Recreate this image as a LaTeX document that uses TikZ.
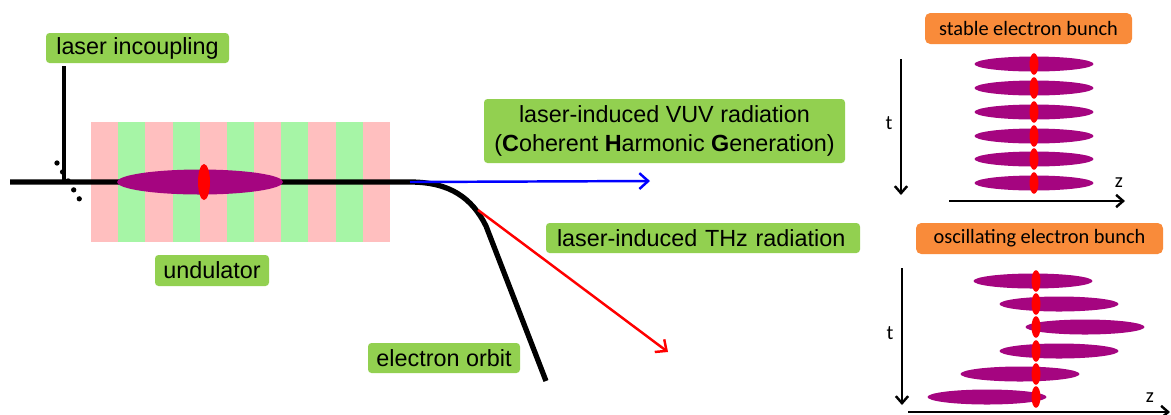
\documentclass[tikz,border=0pt]{standalone}
\usepackage{fontspec}
\setmainfont{Liberation Sans}
\newfontfamily\calibri{Carlito}
\usetikzlibrary{arrows.meta}

\definecolor{labelgreen}{HTML}{92D050}
\definecolor{boxorange}{HTML}{F98B3A}
\definecolor{undpink}{HTML}{FFBFBF}
\definecolor{undgreen}{HTML}{A6F5A6}
\definecolor{bunch}{HTML}{A50580}

\tikzset{
	label box/.style={fill=labelgreen, rounded corners=2pt, inner sep=0pt,
		font=\fontsize{13.3}{16.2}\selectfont},
	title box/.style={fill=boxorange, rounded corners=3pt, inner sep=0pt,
		font=\calibri\fontsize{11.6}{14}\selectfont},
	axis/.style={line width=1.4pt, -{Straight Barb[length=4pt,width=7pt]}},
	ray/.style={line width=1.4pt, -{Straight Barb[length=5pt,width=9pt]}},
}

% one slice of the bunch: centre x, y, and x of the laser spot
\newcommand\slice[3]{
	\fill[bunch] (#1,#2) ellipse [x radius=59.5, y radius=7.5];
	\fill[red] (#3,#2) ellipse [x radius=4.5, y radius=10.8];
}

\begin{document}
\begin{tikzpicture}[x=0.02cm, y=-0.02cm]
	\useasboundingbox (0,0) rectangle (1171,414);
	
	%%%%% UNDULATOR %%%%%
	\foreach \i in {0,...,10} {
		\pgfmathparse{int(mod(\i,2))}
		\ifnum\pgfmathresult=0 \def\stripe{undpink}\else \def\stripe{undgreen}\fi
		\fill[\stripe] ({91+\i*27.18},122) rectangle ({91+(\i+1)*27.18},242);
	}
	
	%%%%% ORBIT AND LASER %%%%%
	\coordinate (orbitbend) at (410,182);
	\coordinate (thzstart) at (478,210);
	\draw[line width=3pt] (10,182) -- (orbitbend) .. controls (450,182) and (472,198) .. (486,226) -- (546,381);
	\draw[line width=2.2pt] (64,66) -- (64,182);
	\draw[line width=3pt, line cap=round, dash pattern=on 0pt off 6pt] (57,163) -- (80,200);
	
	\fill[bunch] (200,182) ellipse [x radius=83, y radius=12.5];
	\fill[red] (204,182) ellipse [x radius=6, y radius=18];
	
	%%%%% RADIATION %%%%%
	\coordinate (vuvend) at (650,181);
	\coordinate (thzend) at (668,352);
	\draw[ray, blue] (orbitbend) -- (vuvend);
	\draw[ray, red] (thzstart) -- (thzend);
	
	%%%%% LABELS %%%%%
	\node[label box, minimum width=183*0.02cm, minimum height=30*0.02cm] (incoupling) at (137.5,48) {laser incoupling};
	\node[label box, minimum width=114*0.02cm, minimum height=31*0.02cm] (undulator) at (212,270.5) {undulator};
	\node[label box, minimum width=361*0.02cm, minimum height=64*0.02cm, align=center] (vuv) at (664.5,131)
		{laser-induced VUV radiation\\(\textbf{C}oherent \textbf{H}armonic \textbf{G}eneration)};
	\node[label box, text width=292*0.02cm, inner xsep=11*0.02cm, minimum height=30*0.02cm, align=left] (thz) at (703,238) {laser-induced THz radiation};
	\node[label box, minimum width=152*0.02cm, minimum height=30*0.02cm] (orbit) at (444,358) {electron orbit};
	
	%%%%% STABLE BUNCH %%%%%
	\node[title box, minimum width=207*0.02cm, minimum height=31*0.02cm] (stable) at (1028.5,28.5) {stable electron bunch};
	\draw[axis] (901,59) -- (901,195);
	\draw[axis] (949,201) -- (1125,201);
	\node[font=\calibri\fontsize{11.6}{14}\selectfont] (ttop) at (889,123) {t};
	\node[font=\calibri\fontsize{11.6}{14}\selectfont] (ztop) at (1119,183) {z};
	\foreach \y in {64,88,112,136,159,183}
		\slice{1034}{\y}{1034};
	
	%%%%% OSCILLATING BUNCH %%%%%
	\node[title box, minimum width=247*0.02cm, minimum height=31*0.02cm] (oscillating) at (1039.5,238.5) {oscillating electron bunch};
	\draw[axis] (902,268) -- (902,405);
	\draw[axis] (908,412) -- (1170,412);
	\node[font=\calibri\fontsize{11.6}{14}\selectfont] (tbottom) at (890,333) {t};
	\node[font=\calibri\fontsize{11.6}{14}\selectfont] (zbottom) at (1150,398) {z};
	\foreach \x/\y in {1033/281,1059/304,1085/327,1059/351,1020/374,987/397}
		\slice{\x}{\y}{1036};
	
\end{tikzpicture}
\end{document}
